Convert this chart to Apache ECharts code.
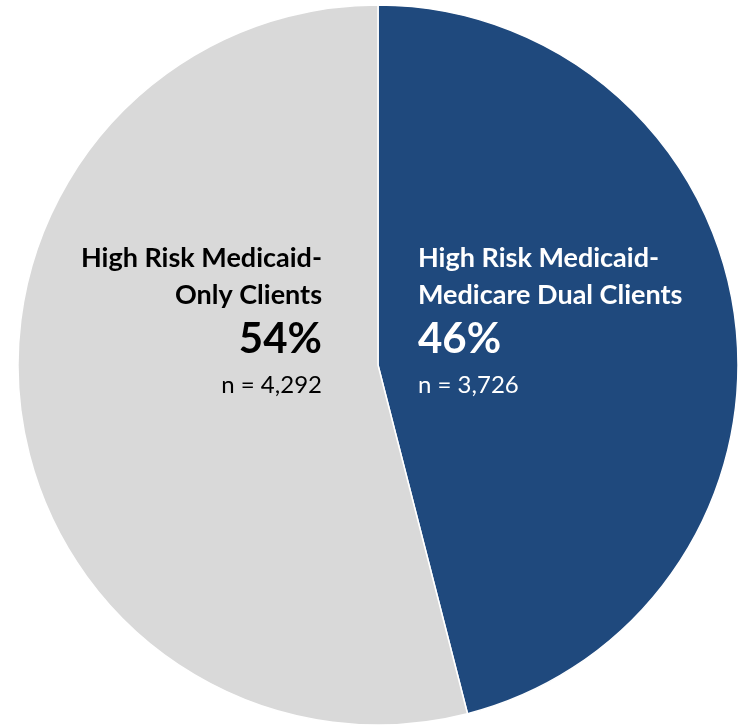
<!DOCTYPE html>
<html>
<head>
<meta charset="utf-8">
<script src="https://cdn.jsdelivr.net/npm/echarts@6/dist/echarts.min.js"></script>
<style>
  html, body { margin: 0; padding: 0; background: #fff; }
  #chart { width: 743px; height: 725px; }
</style>
</head>
<body>
<div id="chart"></div>
<script>
// slice data, clockwise from 12 o'clock
var names = ["High Risk Medicaid-Medicare Dual Clients", "High Risk Medicaid-Only Clients"];
var labelLines = [["High Risk Medicaid-", "Medicare Dual Clients"], ["High Risk Medicaid-", "Only Clients"]];
var percents = [46, 54];
var counts = [3726, 4292];
var colors = ["#1f497d", "#d9d9d9"];
var textColors = ["#ffffff", "#000000"];

var myChart = echarts.init(document.getElementById("chart"));
var font = "Lato, 'Open Sans', sans-serif";

function labelGroup(i, x, align) {
  var c = textColors[i];
  var rows = [
    { text: labelLines[i][0], y: 258, size: 27, weight: "bold" },
    { text: labelLines[i][1], y: 295, size: 27, weight: "bold" },
    { text: percents[i] + "%", y: 339, size: 42, weight: "bold" },
    { text: "n = " + counts[i].toLocaleString("en-US"), y: 385, size: 24, weight: "normal" },
  ];
  return rows.map(function (r) {
    return {
      type: "text",
      x: x,
      y: r.y,
      z: 10,
      style: {
        text: r.text,
        fill: c,
        font: r.weight + " " + r.size + "px " + font,
        textAlign: align,
        textVerticalAlign: "middle",
      },
    };
  });
}

myChart.setOption({
  animation: false,
  series: [
    {
      type: "pie",
      center: [378, 365],
      radius: [0, 360],
      startAngle: 90,
      clockwise: true,
      label: { show: false },
      labelLine: { show: false },
      itemStyle: { borderColor: "#ffffff", borderWidth: 1.5 },
      data: percents.map(function (v, i) {
        return { name: names[i], value: v, itemStyle: { color: colors[i] } };
      }),
    },
  ],
  graphic: labelGroup(1, 322, "right").concat(labelGroup(0, 418, "left")),
});
</script>
</body>
</html>
